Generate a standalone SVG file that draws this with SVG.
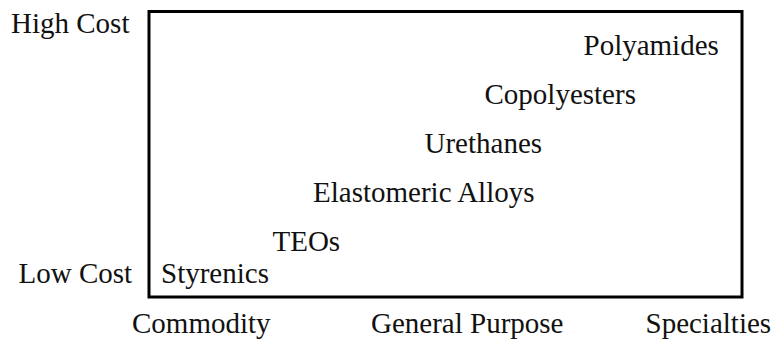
<svg xmlns="http://www.w3.org/2000/svg" width="778" height="341" viewBox="0 0 778 341">
<style>
text { font-family: "Liberation Serif", "Times New Roman", serif; font-size: 29px; fill: #111; }
.frame { fill: none; stroke: #000; stroke-width: 3; }
</style>
<rect width="778" height="341" fill="#fff"/>
<g id="chart">
<rect class="frame" x="149" y="11.5" width="593" height="285.5"/>
</g>
<g id="axis-labels">
<text id="high-cost" x="11" y="33">High Cost</text>
<text id="low-cost" x="18.5" y="283">Low Cost</text>
<text id="commodity" x="132" y="333">Commodity</text>
<text id="general-purpose" x="371" y="333">General Purpose</text>
<text id="specialties" x="645.5" y="333">Specialties</text>
</g>
<g id="materials">
<text id="polyamides" x="583.5" y="55">Polyamides</text>
<text id="copolyesters" x="484.5" y="104">Copolyesters</text>
<text id="urethanes" x="424.5" y="153">Urethanes</text>
<text id="elastomeric-alloys" x="313" y="202">Elastomeric Alloys</text>
<text id="teos" x="272.5" y="251">TEOs</text>
<text id="styrenics" x="161" y="283">Styrenics</text>
</g>
</svg>
